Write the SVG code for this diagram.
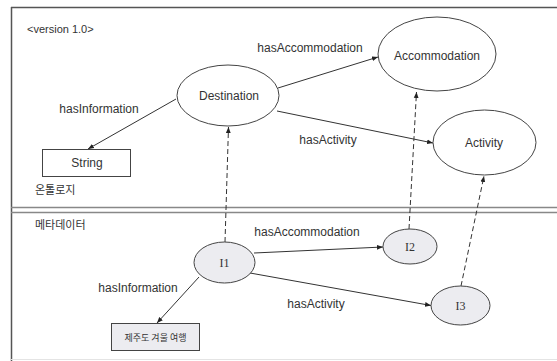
<svg xmlns="http://www.w3.org/2000/svg" width="557" height="361" viewBox="0 0 557 361">
<defs>
<marker id="arr" viewBox="0 0 10 10" refX="10" refY="5" markerWidth="6" markerHeight="6" markerUnits="userSpaceOnUse" orient="auto">
<path d="M0,1 L10,5 L0,9 z" fill="#222"/>
</marker>
</defs>
<style>
.t{font-family:"Liberation Sans",Arial,sans-serif;font-size:12px;fill:#333}
.k{font-family:"Noto Sans CJK KR","Liberation Sans",sans-serif;font-size:11px;fill:#333}
.s{font-family:"Liberation Serif","Times New Roman",serif;font-size:12px;fill:#333}
.e{fill:#fff;stroke:#444;stroke-width:1}
.g{fill:#ececf0;stroke:#444;stroke-width:1}
.l{stroke:#333;stroke-width:1;fill:none;marker-end:url(#arr)}
.d{stroke:#333;stroke-width:1;fill:none;stroke-dasharray:5,3;marker-end:url(#arr)}
</style>
<rect width="557" height="361" fill="#fff"/>
<g id="frame">
<line x1="11" y1="7.5" x2="557" y2="7.5" stroke="#555" stroke-width="1.5"/>
<line x1="11.5" y1="7" x2="11.5" y2="361" stroke="#555" stroke-width="1.5"/>
<line x1="11" y1="207.5" x2="557" y2="207.5" stroke="#888" stroke-width="1.5"/>
<line x1="11" y1="212.5" x2="557" y2="212.5" stroke="#888" stroke-width="1.5"/>
<line x1="11" y1="359.5" x2="557" y2="359.5" stroke="#e4e4e4" stroke-width="1"/>
<text class="t" x="27" y="33" style="font-size:11px">&lt;version 1.0&gt;</text>
<text class="k" x="35" y="194">온톨로지</text>
<text class="k" x="35" y="229">메타데이터</text>
</g>
<g id="connectors">
<line class="l" x1="176" y1="99" x2="88" y2="149"/>
<line class="l" x1="278" y1="88" x2="378" y2="57"/>
<line class="l" x1="277" y1="111" x2="433" y2="143"/>
<line class="d" x1="225" y1="242" x2="228.5" y2="127"/>
<line class="d" x1="409" y1="229" x2="416.5" y2="92"/>
<line class="d" x1="461" y1="286" x2="484" y2="176"/>
<line class="l" x1="254" y1="253" x2="383" y2="247"/>
<line class="l" x1="250" y1="273" x2="431" y2="305.5"/>
<line class="l" x1="199" y1="277" x2="157" y2="323"/>
<text class="t" x="99" y="113" text-anchor="middle">hasInformation</text>
<text class="t" x="310" y="52" text-anchor="middle">hasAccommodation</text>
<text class="t" x="328" y="144" text-anchor="middle">hasActivity</text>
<text class="t" x="307" y="236" text-anchor="middle">hasAccommodation</text>
<text class="t" x="138" y="292" text-anchor="middle">hasInformation</text>
<text class="t" x="316" y="308" text-anchor="middle">hasActivity</text>
</g>
<g id="Destination">
<ellipse class="e" cx="228" cy="95.5" rx="51" ry="30.5"/>
<text class="t" x="229" y="100" text-anchor="middle">Destination</text>
</g>
<g id="Accommodation">
<ellipse class="e" cx="437" cy="54" rx="59" ry="37"/>
<text class="t" x="437" y="60" text-anchor="middle">Accommodation</text>
</g>
<g id="Activity">
<ellipse class="e" cx="484.5" cy="142.5" rx="51.5" ry="32.5"/>
<text class="t" x="484" y="147" text-anchor="middle">Activity</text>
</g>
<g id="String">
<rect class="e" x="42.5" y="149.5" width="88" height="27"/>
<text class="t" x="87" y="167" text-anchor="middle">String</text>
</g>
<g id="I1">
<ellipse class="g" cx="224.5" cy="262.5" rx="30.5" ry="20.5"/>
<text class="s" x="224.5" y="267" text-anchor="middle">I1</text>
</g>
<g id="I2">
<ellipse class="g" cx="410" cy="246.5" rx="27" ry="17.5"/>
<text class="s" x="410" y="251" text-anchor="middle">I2</text>
</g>
<g id="I3">
<ellipse class="g" cx="460.5" cy="305.5" rx="29.5" ry="19.5"/>
<text class="s" x="460.5" y="310" text-anchor="middle">I3</text>
</g>
<g id="jeju">
<rect class="g" x="111.5" y="323.5" width="88" height="27"/>
<text class="k" x="155.5" y="341" text-anchor="middle" style="font-size:9px">제주도 겨울 여행</text>
</g>
</svg>
